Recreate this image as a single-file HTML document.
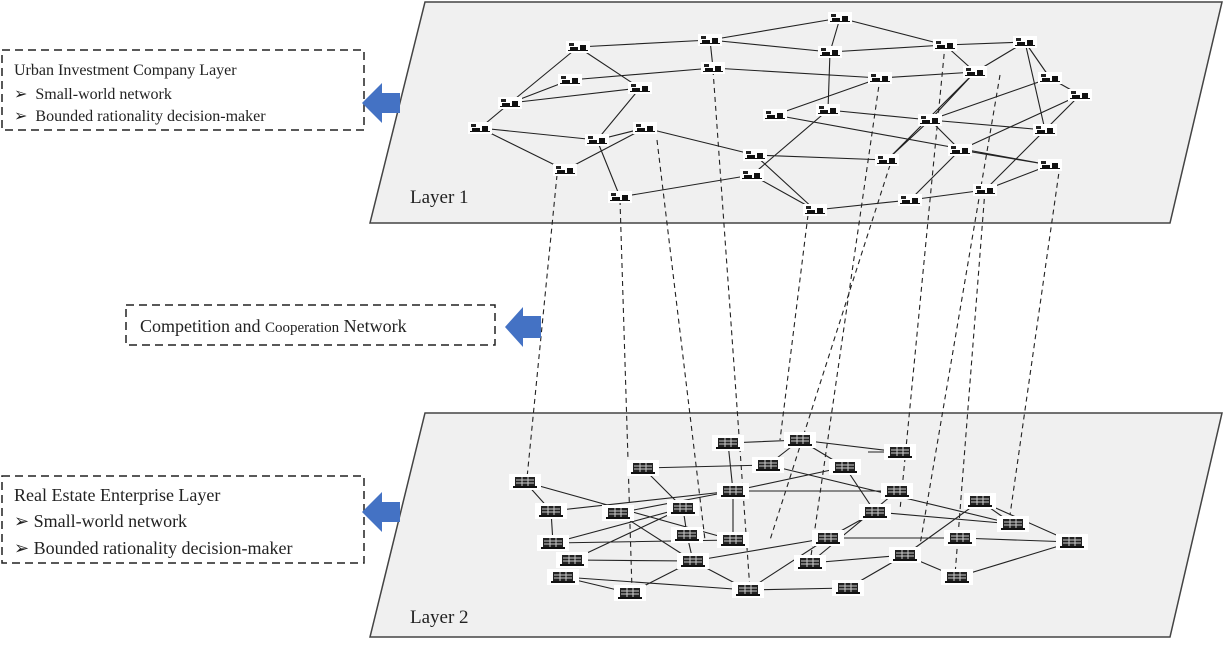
<!DOCTYPE html>
<html><head><style>
body{margin:0;background:#fff;}
svg{display:block;font-family:"Liberation Serif",serif;}
</style></head><body>
<svg width="1226" height="647" viewBox="0 0 1226 647" xmlns="http://www.w3.org/2000/svg">
<defs>
<g id="n1"><rect x="-12" y="-6" width="24" height="12" fill="#fff"/><rect x="-9" y="-4" width="5" height="3" fill="#222"/><rect x="-8" y="0" width="8" height="3" fill="#111"/><rect x="2" y="-2" width="6" height="5" fill="#111"/><rect x="-10" y="3" width="20" height="1" fill="#111"/></g>
<g id="n2"><rect x="-16" y="-8" width="32" height="16" fill="#fff"/><rect x="-10" y="-5" width="20" height="9" fill="#222"/><path d="M-9,-2H9M-9,1H9M-3,-5V4M3,-5V4" stroke="#ccc" stroke-width="1"/><rect x="-12" y="4" width="24" height="2" fill="#111"/></g>
</defs>
<polygon points="425,2 1222,2 1170,223 370,223" fill="#f0f0f0" stroke="#444" stroke-width="1.5"/>
<polygon points="425,413 1222,413 1170,637 370,637" fill="#f0f0f0" stroke="#444" stroke-width="1.5"/>
<text x="410" y="203" font-size="19" fill="#222">Layer 1</text>
<text x="410" y="623" font-size="19" fill="#222">Layer 2</text>
<g stroke="#222" stroke-width="1.1" fill="none">
<path d="M840,18L710,40M840,18L945,45M840,18L830,52M578,47L710,40M578,47L510,103M578,47L640,88M710,40L830,52M710,40L713,68M830,52L945,45M945,45L1025,42M1025,42L1050,78M1050,78L1080,95M1025,42L1045,130M945,45L975,72M975,72L880,78M975,72L930,120M880,78L775,115M830,52L828,110M713,68L570,80M713,68L880,78M570,80L510,103M510,103L480,128M480,128L597,140M480,128L565,170M597,140L645,128M597,140L620,197M645,128L755,155M640,88L597,140M828,110L930,120M828,110L752,175M775,115L1050,165M930,120L960,150M930,120L887,160M930,120L1045,130M960,150L910,200M960,150L1050,165M1080,95L985,190M1045,130L985,190M985,190L910,200M910,200L815,210M815,210L752,175M752,175L620,197M755,155L887,160M887,160L975,72M565,170L645,128M1050,78L930,120M1025,42L975,72M1080,95L960,150M510,103L640,88M620,197L752,175M815,210L755,155M1050,165L985,190"/>
<path d="M728,443L800,440M800,440L900,452M800,440L768,465M800,440L845,467M728,443L733,491M643,468L768,465M643,468L683,508M525,482L551,511M525,482L733,540M551,511L553,543M551,511L733,491M618,513L693,561M618,513L733,491M683,508L687,535M687,535L693,561M733,491L733,540M733,491L897,491M733,491L845,467M845,467L875,512M875,512L828,538M897,491L810,563M980,501L1013,524M980,501L905,555M980,501L1072,542M1013,524L875,512M553,543L683,508M553,543L733,540M572,560L683,508M572,560L693,561M563,577L630,593M563,577L748,590M693,561L630,593M693,561L748,590M748,590L828,538M748,590L848,588M828,538L960,538M828,538L693,561M810,563L905,555M905,555L957,577M957,577L1072,542M848,588L905,555M960,538L1072,542M868,452L900,452M768,465L1013,524"/>
</g>
<g stroke="#222" stroke-width="1.1" stroke-dasharray="5,4" fill="none">
<path d="M557,175L527,478M620,200L632,590M657,140L705,540M713,70L750,590M808,215L780,440M880,78L810,563M890,165L770,540M945,45L900,510M985,190L955,575M1000,75L920,545M1060,165L1010,515"/>
</g>
<g>
<use href="#n1" x="840" y="18"/><use href="#n1" x="578" y="47"/><use href="#n1" x="710" y="40"/><use href="#n1" x="830" y="52"/><use href="#n1" x="945" y="45"/><use href="#n1" x="1025" y="42"/><use href="#n1" x="1050" y="78"/><use href="#n1" x="713" y="68"/><use href="#n1" x="975" y="72"/><use href="#n1" x="570" y="80"/><use href="#n1" x="880" y="78"/><use href="#n1" x="1080" y="95"/><use href="#n1" x="510" y="103"/><use href="#n1" x="640" y="88"/><use href="#n1" x="828" y="110"/><use href="#n1" x="775" y="115"/><use href="#n1" x="930" y="120"/><use href="#n1" x="480" y="128"/><use href="#n1" x="597" y="140"/><use href="#n1" x="645" y="128"/><use href="#n1" x="1045" y="130"/><use href="#n1" x="960" y="150"/><use href="#n1" x="755" y="155"/><use href="#n1" x="887" y="160"/><use href="#n1" x="1050" y="165"/><use href="#n1" x="565" y="170"/><use href="#n1" x="752" y="175"/><use href="#n1" x="620" y="197"/><use href="#n1" x="815" y="210"/><use href="#n1" x="910" y="200"/><use href="#n1" x="985" y="190"/>
</g>
<g>
<use href="#n2" x="728" y="443"/><use href="#n2" x="800" y="440"/><use href="#n2" x="900" y="452"/><use href="#n2" x="643" y="468"/><use href="#n2" x="768" y="465"/><use href="#n2" x="845" y="467"/><use href="#n2" x="525" y="482"/><use href="#n2" x="733" y="491"/><use href="#n2" x="897" y="491"/><use href="#n2" x="980" y="501"/><use href="#n2" x="551" y="511"/><use href="#n2" x="618" y="513"/><use href="#n2" x="683" y="508"/><use href="#n2" x="875" y="512"/><use href="#n2" x="1013" y="524"/><use href="#n2" x="553" y="543"/><use href="#n2" x="687" y="535"/><use href="#n2" x="733" y="540"/><use href="#n2" x="828" y="538"/><use href="#n2" x="960" y="538"/><use href="#n2" x="1072" y="542"/><use href="#n2" x="572" y="560"/><use href="#n2" x="693" y="561"/><use href="#n2" x="810" y="563"/><use href="#n2" x="905" y="555"/><use href="#n2" x="563" y="577"/><use href="#n2" x="630" y="593"/><use href="#n2" x="748" y="590"/><use href="#n2" x="848" y="588"/><use href="#n2" x="957" y="577"/>
</g>
<g fill="none" stroke="#222" stroke-width="1.5" stroke-dasharray="8,5">
<rect x="2" y="50" width="362" height="80"/>
<rect x="126" y="305" width="369" height="40"/>
<rect x="2" y="476" width="362" height="87"/>
</g>
<g fill="#4472c4">
<polygon points="362,103 382,83 382,93 400,93 400,113 382,113 382,123"/>
<polygon points="505,327 523,307 523,316 541,316 541,338 523,338 523,347"/>
<polygon points="362,512 382,492 382,502 400,502 400,522 382,522 382,532"/>
</g>
<g fill="#222">
<text x="14" y="75" font-size="16">Urban Investment Company Layer</text>
<text x="14" y="99" font-size="16">➢&#160;&#160;Small-world network</text>
<text x="14" y="121" font-size="16">➢&#160;&#160;Bounded rationality decision-maker</text>
<text x="140" y="332" font-size="18">Competition and <tspan font-size="15">Cooperation</tspan> Network</text>
<text x="14" y="501" font-size="18">Real Estate Enterprise Layer</text>
<text x="14" y="527" font-size="18">➢&#160;Small-world network</text>
<text x="14" y="554" font-size="18">➢&#160;Bounded rationality decision-maker</text>
</g>
</svg>
</body></html>
